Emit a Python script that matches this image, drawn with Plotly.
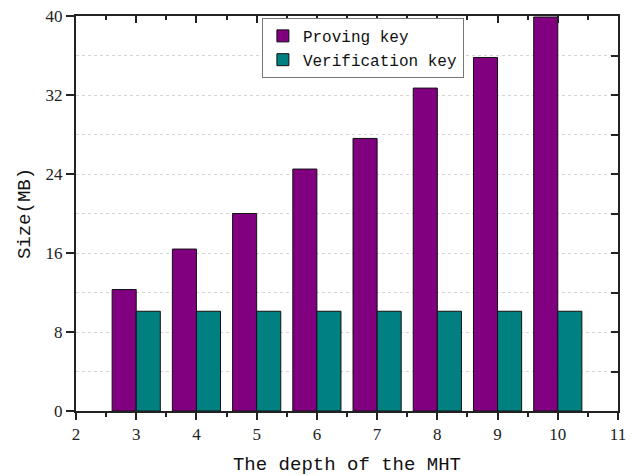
import plotly.graph_objects as go

depths = [3, 4, 5, 6, 7, 8, 9, 10]
proving_key = [12.3, 16.4, 20.0, 24.5, 27.6, 32.7, 35.8, 39.9]
verification_key = [10.1, 10.1, 10.1, 10.1, 10.1, 10.1, 10.1, 10.1]
x_ticks = [2, 3, 4, 5, 6, 7, 8, 9, 10, 11]
y_ticks = [0, 8, 16, 24, 32, 40]

mono = "Liberation Mono"
serif = "Liberation Serif"
axis_col = "#222222"

fig = go.Figure()
fig.add_trace(go.Bar(x=depths, y=proving_key, name="Proving key",
                     marker=dict(color="#800080", line=dict(color="#111111", width=1))))
fig.add_trace(go.Bar(x=depths, y=verification_key, name="Verification key",
                     marker=dict(color="#008080", line=dict(color="#111111", width=1))))
# transparent helper trace so the top/right axes with inward ticks are drawn
fig.add_trace(go.Scatter(x=depths, y=proving_key, xaxis="x2", yaxis="y2", mode="markers",
                         marker=dict(color="rgba(0,0,0,0)", size=1), showlegend=False,
                         hoverinfo="skip"))

fig.update_layout(
    width=631, height=468,
    margin=dict(l=68, r=21, t=8, b=65),
    paper_bgcolor="white", plot_bgcolor="white",
    barmode="group", bargap=0.2, bargroupgap=0,
    showlegend=True,
    legend=dict(x=0.343, y=0.995, xanchor="left", yanchor="top",
                bgcolor="white", bordercolor="#777777", borderwidth=1,
                font=dict(family=mono, size=16, color="#111111"),
                tracegroupgap=0, itemwidth=30),
    xaxis=dict(range=[2, 11], tickvals=x_ticks, ticks="outside", ticklen=7, tickwidth=1.5,
               tickcolor=axis_col, showline=True, linecolor=axis_col, linewidth=2,
               showgrid=False, zeroline=False, automargin=False,
               tickfont=dict(family=serif, size=17, color="#222222"),
               minor=dict(dtick=0.5, tick0=2, ticks="outside", ticklen=4, tickcolor=axis_col, tickwidth=1.5),
               title=dict(text="The depth of the MHT", font=dict(family=mono, size=19, color="#111111"),
                          standoff=13)),
    yaxis=dict(range=[0, 40], tickvals=y_ticks, ticks="outside", ticklen=8, tickwidth=1.5,
               tickcolor=axis_col, showline=True, linecolor=axis_col, linewidth=2,
               showgrid=True, gridcolor="#d4d4d4", griddash="dot", gridwidth=1, zeroline=False,
               automargin=False, ticklabeloverflow="allow",
               tickfont=dict(family=serif, size=17, color="#222222"),
               minor=dict(dtick=4, tick0=0, showgrid=True, gridcolor="#d4d4d4", griddash="dot", ticks=""),
               title=dict(text="Size(MB)", font=dict(family=mono, size=19, color="#111111"),
                          standoff=10)),
    xaxis2=dict(range=[2, 11], overlaying="x", side="top", anchor="y", tickvals=x_ticks,
                ticks="inside", ticklen=7, tickwidth=1.5, tickcolor=axis_col,
                showticklabels=False, showline=True, linecolor=axis_col, linewidth=2,
                showgrid=False, zeroline=False,
                minor=dict(dtick=0.5, tick0=2, ticks="inside", ticklen=4, tickcolor=axis_col, tickwidth=1.5)),
    yaxis2=dict(range=[0, 40], overlaying="y", side="right", anchor="x", dtick=4,
                ticks="inside", ticklen=7, tickwidth=1.5, tickcolor=axis_col,
                showticklabels=False, showline=True, linecolor=axis_col, linewidth=2,
                showgrid=False, zeroline=False),
)

fig.write_html("out.html")
